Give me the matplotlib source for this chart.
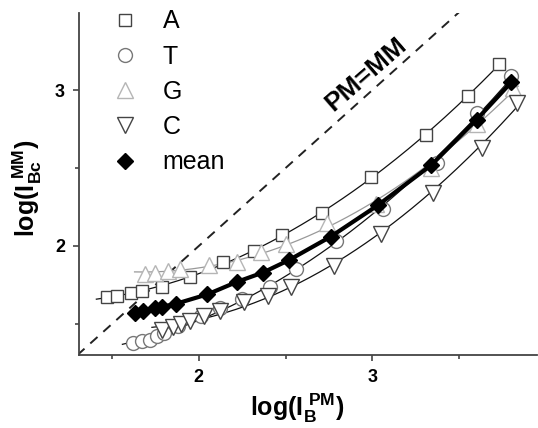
import numpy as np
import matplotlib
matplotlib.use("Agg")
import matplotlib.pyplot as plt
from matplotlib.lines import Line2D

plt.rcParams['font.family'] = ['Liberation Sans', 'DejaVu Sans']
plt.rcParams['mathtext.fontset'] = 'custom'
plt.rcParams['mathtext.rm'] = 'Liberation Sans:bold'
plt.rcParams['mathtext.it'] = 'Liberation Sans:bold'
plt.rcParams['mathtext.bf'] = 'Liberation Sans:bold'

# log intensities: perfect-match (x) vs. background-corrected mismatch (y)
a_x = [1.47, 1.53, 1.61, 1.67, 1.79, 1.95, 2.14, 2.32, 2.48, 2.71, 2.99, 3.31, 3.55, 3.73]
a_y = [1.67, 1.68, 1.70, 1.71, 1.74, 1.80, 1.90, 1.97, 2.07, 2.21, 2.44, 2.71, 2.96, 3.17]

t_x = [1.62, 1.67, 1.72, 1.76, 1.80, 1.88, 2.01, 2.12, 2.25, 2.41, 2.56, 2.79, 3.06, 3.37, 3.60, 3.80]
t_y = [1.38, 1.39, 1.40, 1.42, 1.44, 1.49, 1.55, 1.60, 1.66, 1.74, 1.85, 2.03, 2.24, 2.53, 2.85, 3.09]

g_x = [1.69, 1.75, 1.82, 1.89, 2.06, 2.22, 2.36, 2.50, 2.74, 3.02, 3.34, 3.60, 3.81]
g_y = [1.82, 1.83, 1.84, 1.85, 1.88, 1.90, 1.96, 2.01, 2.15, 2.27, 2.50, 2.78, 3.01]

c_x = [1.79, 1.85, 1.90, 1.95, 2.03, 2.12, 2.26, 2.40, 2.53, 2.78, 3.05, 3.35, 3.63, 3.83]
c_y = [1.46, 1.48, 1.50, 1.52, 1.55, 1.58, 1.64, 1.68, 1.74, 1.87, 2.08, 2.34, 2.63, 2.92]

m_x = [1.63, 1.68, 1.75, 1.79, 1.87, 2.05, 2.22, 2.37, 2.52, 2.76, 3.03, 3.34, 3.60, 3.80]
m_y = [1.57, 1.58, 1.60, 1.61, 1.63, 1.69, 1.77, 1.83, 1.91, 2.06, 2.26, 2.52, 2.81, 3.05]

identity = [1.30, 3.70]

fig = plt.figure(figsize=(5.38, 4.28), dpi=100)
ax = fig.add_axes([79 / 538, 1 - 355 / 428, 1 - 80 / 538, (355 - 13) / 428])
ax.set_xlim(1.310, 3.948)
ax.set_ylim(1.301, 3.494)

# PM = MM reference
ax.plot(identity, identity, color='#222222', lw=1.4, dashes=(5, 4), zorder=1)
ax.text(2.965, 3.10, 'PM=MM', rotation=41, fontsize=19, fontweight='bold',
        ha='center', va='center', color='black')


def fit_curve(x, y, color, lw):
    coef = np.polyfit(x, y, 2)
    xs = np.linspace(min(x) - 0.06, max(x) + 0.03, 200)
    ax.plot(xs, np.polyval(coef, xs), color=color, lw=lw, zorder=2)


fit_curve(a_x, a_y, '#111111', 0.9)
fit_curve(t_x, t_y, '#111111', 0.9)
fit_curve(g_x, g_y, '#999999', 0.9)
fit_curve(c_x, c_y, '#111111', 0.9)

style = dict(ls='none', mfc='white', mew=1.0, zorder=3)
ax.plot(a_x, a_y, marker='s', ms=9, mec='#444444', **style)
ax.plot(t_x, t_y, marker='o', ms=10, mec='#777777', **style)
ax.plot(g_x, g_y, marker='^', ms=11, mec='#b5b5b5', **style)
ax.plot(c_x, c_y, marker='v', ms=11, mec='#444444', **style)
ax.plot(m_x, m_y, marker='D', ms=8, color='black', lw=3.0, zorder=4)

handles = [
    Line2D([], [], ls='none', marker='s', ms=9, mfc='white', mec='#444444', mew=1.0),
    Line2D([], [], ls='none', marker='o', ms=10, mfc='white', mec='#777777', mew=1.0),
    Line2D([], [], ls='none', marker='^', ms=11, mfc='white', mec='#b5b5b5', mew=1.0),
    Line2D([], [], ls='none', marker='v', ms=11, mfc='white', mec='#444444', mew=1.0),
    Line2D([], [], ls='none', marker='D', ms=8, color='black'),
]
ax.legend(handles, ['A', 'T', 'G', 'C', 'mean'], loc='upper left',
          bbox_to_anchor=(0.057, 1.04), frameon=False, fontsize=18,
          handlelength=0.8, handletextpad=1.1, labelspacing=0.45,
          borderaxespad=0)

for s in ['top', 'right']:
    ax.spines[s].set_visible(False)
for s in ['left', 'bottom']:
    ax.spines[s].set_color('#444444')
    ax.spines[s].set_linewidth(1.3)

ax.set_xticks([2, 3])
ax.set_yticks([2, 3])
ax.set_xticks([1.5, 2.5, 3.5], minor=True)
ax.set_yticks([1.5, 2.5], minor=True)
ax.tick_params(which='major', length=4, width=1.2, color='#444444',
               labelsize=13, pad=6)
ax.tick_params(which='minor', length=3, width=1.2, color='#444444')
for lab in ax.get_xticklabels() + ax.get_yticklabels():
    lab.set_fontweight('bold')

ax.set_xlabel(r'$\mathbf{log(I_B^{\ PM})}$', fontsize=18)
ax.set_ylabel(r'$\mathbf{log(I_{Bc}^{\ MM})}$', fontsize=18)
ax.xaxis.set_label_coords((298 - 79) / 459, -(392 - 355) / 342)
ax.yaxis.set_label_coords(-(79 - 44) / 459, (355 - 188) / 342)

fig.savefig('out.png', dpi=100)
